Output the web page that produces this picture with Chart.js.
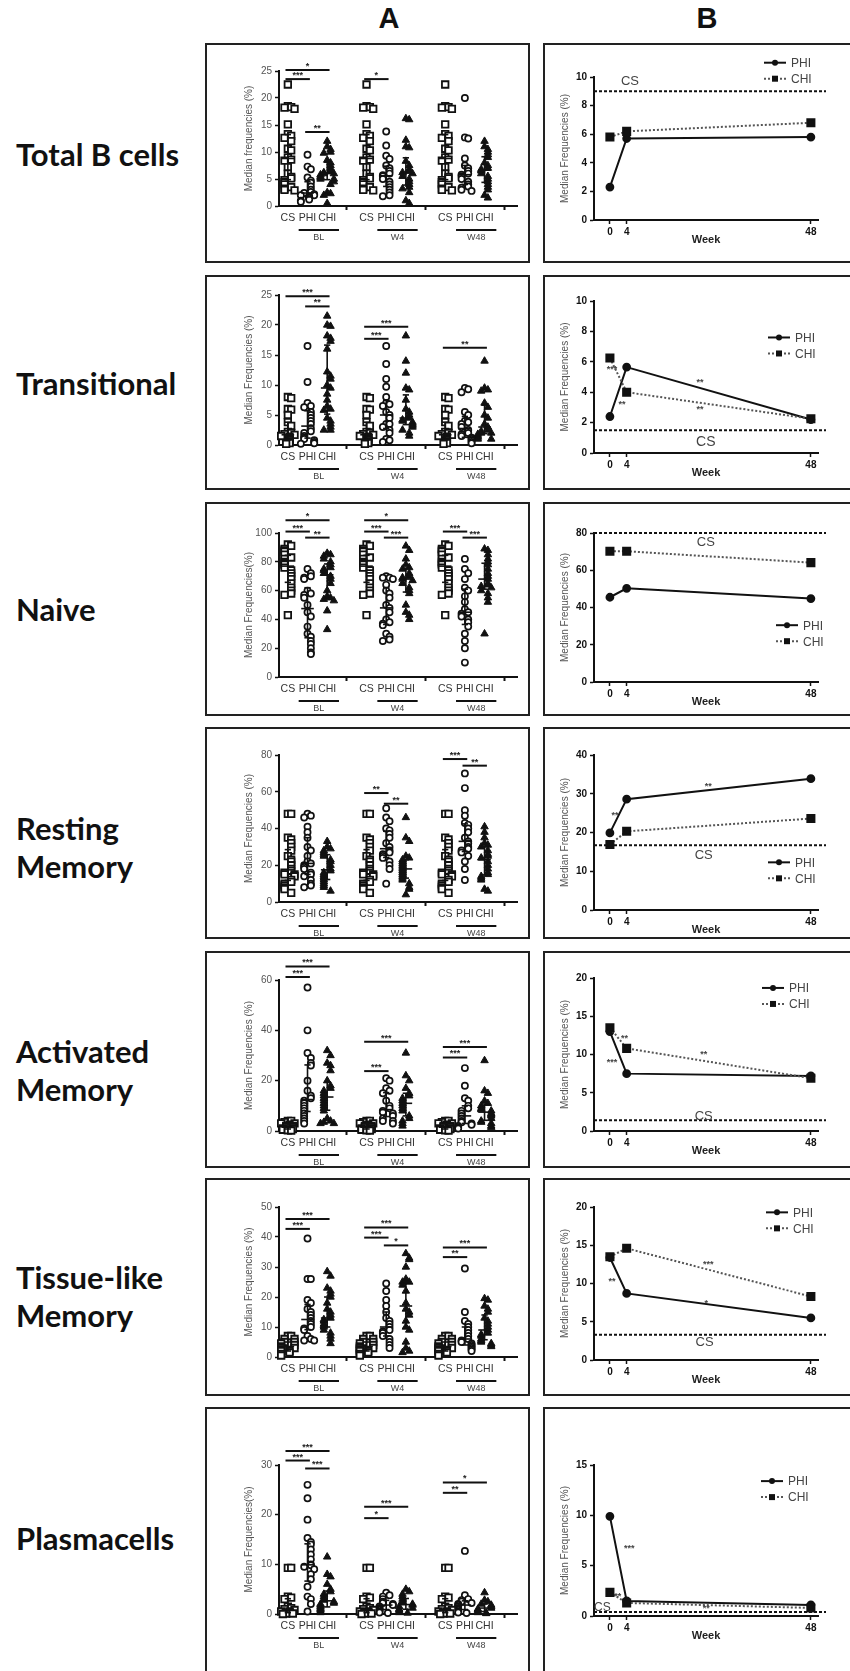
<!DOCTYPE html>
<html lang="en">
<head>
<meta charset="UTF-8">
<title>B cell subsets - median frequencies</title>
<script src="https://cdn.jsdelivr.net/npm/chart.js@4.4.1/dist/chart.umd.min.js"></script>
<style>
  body { margin: 0; width: 850px; height: 1671px; position: relative; overflow: hidden; background: #fff; }
  .head { position: absolute; top: 2px; transform: translateX(-50%); font: bold 29px "Liberation Sans", Arial, sans-serif; color: #111; }
  .rowlab { position: absolute; left: 16px; transform: translateY(-50%); font: bold 31px Lato, "Open Sans", sans-serif; line-height: 38px; color: #111; white-space: pre; }
  .box { position: absolute; border: 2px solid #222; box-sizing: border-box; }
  canvas { position: absolute; }
</style>
</head>
<body>
<div class="head" style="left:389px">A</div>
<div class="head" style="left:707px">B</div>
<script>
// ---- data ----
const rowNames = ['Total B cells', 'Transitional', 'Naive', 'Resting\nMemory', 'Activated\nMemory', 'Tissue-like\nMemory', 'Plasmacells'];
const timeGroups = ['BL', 'W4', 'W48'];
const cohorts = ['CS', 'PHI', 'CHI'];
const weeks = [0, 4, 48];

// column A: individual values (%); CS controls are the same at every time point
const totalCS = [22.5, 18.5, 18.3, 18.2, 18.0, 15.1, 13.3, 13.0, 12.6, 12.0, 10.6, 10.3, 9.0, 8.6, 8.4, 7.2, 6.0, 5.4, 5.1, 4.8, 4.4, 4.0, 3.5, 3.2, 3.0, 2.9];
const totalPHI = [
  [9.5, 7.3, 6.8, 5.3, 4.7, 4.3, 3.6, 3.0, 2.6, 2.4, 2.2, 2.0, 2.0, 1.8, 1.6, 1.5, 1.2, 1.0, 0.8],
  [13.8, 11.2, 9.3, 8.7, 7.5, 7.0, 6.5, 6.0, 5.7, 5.5, 5.0, 4.5, 4.0, 3.5, 3.0, 2.5, 2.0, 1.8],
  [20.0, 12.7, 12.5, 8.8, 7.5, 7.0, 6.5, 6.0, 5.8, 5.5, 5.0, 4.5, 4.0, 3.6, 3.4, 3.0, 2.8]
];
const totalCHI = [
  [12.0, 11.0, 10.5, 10.0, 9.8, 8.5, 8.0, 7.5, 7.0, 6.5, 6.2, 6.0, 6.0, 5.8, 5.5, 5.3, 5.0, 5.0, 4.5, 4.0, 2.5, 2.3, 2.0, 0.5],
  [16.2, 16.0, 12.2, 11.0, 10.8, 8.3, 7.5, 6.8, 6.5, 6.2, 6.0, 5.5, 5.0, 4.5, 4.0, 3.5, 3.2, 2.5, 1.0, 0.5],
  [12.0, 11.0, 10.5, 10.0, 9.5, 9.0, 8.0, 7.5, 7.0, 6.8, 6.5, 6.0, 5.5, 5.0, 4.5, 4.0, 3.5, 3.0, 2.0, 1.5]
];
const transCS = [8.0, 7.8, 6.0, 5.9, 5.0, 3.8, 3.2, 2.2, 2.0, 1.8, 1.7, 1.5, 1.4, 1.2, 1.0, 0.9, 0.8, 0.6, 0.5, 0.3, 0.2];
const transPHI = [
  [16.5, 10.5, 7.0, 6.5, 6.3, 5.5, 5.0, 4.5, 4.0, 3.5, 2.8, 2.3, 2.0, 1.5, 1.2, 1.0, 0.8, 0.5, 0.3, 0.2],
  [16.5, 13.5, 11.0, 9.7, 8.0, 7.0, 6.8, 6.5, 5.5, 5.0, 4.5, 3.5, 3.5, 3.0, 2.5, 2.0, 1.0, 0.8, 0.5],
  [9.5, 9.3, 8.8, 5.5, 5.0, 4.0, 3.8, 3.5, 3.0, 2.5, 2.0, 1.8, 1.5, 1.2, 1.0, 0.8, 0.5, 0.3]
];
const transCHI = [
  [21.5, 20.0, 19.8, 18.2, 17.8, 17.3, 16.0, 12.2, 11.5, 11.0, 10.0, 9.5, 8.5, 7.5, 6.5, 6.0, 5.8, 4.5, 4.0, 3.5, 3.0, 2.5, 2.5],
  [18.2, 14.0, 12.0, 9.5, 9.2, 7.5, 6.0, 5.5, 5.0, 4.5, 4.2, 4.0, 3.8, 3.5, 3.3, 3.0, 2.5, 2.0, 1.5],
  [14.0, 9.5, 9.2, 9.0, 7.0, 6.3, 5.0, 4.5, 3.5, 3.0, 2.5, 2.3, 2.0, 2.0, 1.8, 1.5, 1.3, 1.0, 1.0]
];
const naiveCS = [92, 91, 89, 88, 87, 85, 83, 82, 80, 79, 78, 76, 74, 72, 70, 68, 65, 62, 60, 58, 57, 43];
const naivePHI = [
  [75, 72, 70, 69, 68, 60, 58, 57, 55, 50, 45, 42, 35, 30, 28, 25, 23, 20, 17, 16],
  [70, 69, 69, 68, 64, 60, 58, 55, 50, 48, 45, 40, 38, 37, 36, 30, 28, 26, 25],
  [82, 75, 72, 68, 62, 60, 56, 52, 47, 45, 44, 42, 40, 38, 35, 30, 25, 20, 10]
];
const naiveCHI = [
  [86, 85, 84, 82, 80, 78, 76, 75, 74, 72, 70, 68, 65, 60, 56, 55, 54, 53, 46, 33],
  [91, 88, 82, 78, 76, 75, 72, 70, 69, 68, 67, 65, 62, 60, 58, 50, 45, 43, 40],
  [89, 88, 85, 82, 80, 78, 75, 72, 70, 68, 65, 64, 63, 62, 60, 58, 55, 52, 30]
];
const restCS = [48, 48, 35, 34, 32, 30, 28, 25, 23, 22, 20, 18, 17, 16, 15, 15, 14, 12, 11, 10, 9, 8, 7, 5];
const restPHI = [
  [48, 47, 46, 41, 38, 35, 30, 28, 25, 22, 21, 20, 19, 18, 16, 15, 14, 12, 10, 9, 8],
  [51, 46, 44, 40, 39, 37, 35, 32, 30, 28, 27, 26, 25, 24, 22, 20, 18, 10],
  [70, 62, 50, 47, 43, 42, 40, 38, 35, 33, 32, 30, 29, 28, 27, 25, 22, 18, 12]
];
const restCHI = [
  [33, 30, 29, 28, 27, 26, 25, 23, 22, 20, 18, 17, 16, 15, 14, 13, 12, 11, 10, 9, 8, 6],
  [46, 35, 33, 25, 24, 23, 22, 21, 20, 19, 18, 17, 16, 15, 14, 13, 12, 10, 8, 7, 4],
  [41, 38, 35, 32, 31, 30, 28, 26, 25, 24, 22, 20, 18, 16, 15, 14, 13, 12, 7, 6]
];
const actCS = [4, 4, 3.5, 3, 3, 2.5, 2, 2, 1.5, 1.5, 1, 1, 0.8, 0.5, 0.5, 0.3, 0.2];
const actPHI = [
  [57, 40, 31, 29, 27, 26, 20, 16, 14, 13, 12, 11, 10, 9, 8, 7, 6, 5, 4, 3],
  [21, 20, 17, 16, 15, 12, 10, 9, 8, 7.5, 7, 6, 5, 4, 4, 3],
  [25, 18, 13, 12, 10, 9, 8, 7, 6, 5, 4, 3.5, 3, 2.5, 2, 1.5, 1]
];
const actCHI = [
  [32, 30, 27, 26, 24, 20, 18, 17, 16, 15, 14, 13, 12, 11, 10, 9, 8, 5, 4, 3.5, 3, 3],
  [31, 22, 20, 17, 15, 14, 13, 12, 11, 10, 9, 8, 6, 5, 4, 3, 2],
  [28, 16, 15, 12, 11, 10, 9, 8.5, 8, 7, 6.5, 6, 5, 4, 3.5, 3, 2, 1.5]
];
const tissueCS = [7, 7, 6, 6, 5, 5, 4.5, 4, 3.5, 3, 3, 2.5, 2, 2, 1.5, 1, 0.5];
const tissuePHI = [
  [39.5, 26, 26, 19, 18, 16, 15, 14, 13, 12, 11, 10, 9.5, 9, 7, 6, 5.5, 5.5],
  [24.5, 22, 19, 17, 15, 13, 12, 11, 10, 9, 8.5, 8, 7, 6, 5, 4, 3],
  [29.5, 15, 12, 11, 10, 9, 8, 7, 6, 5.5, 5, 4.5, 4, 3.5, 3, 2.5, 2]
];
const tissueCHI = [
  [28.5, 27, 23, 22, 21, 20, 18, 16, 15, 14, 13, 12.5, 12, 11, 10.5, 10, 9, 8, 7, 6, 4.5],
  [34.5, 33, 32.5, 30, 26, 25, 25, 24, 22, 18, 16, 15, 14, 12, 10, 9, 5, 3, 2, 1.5],
  [19.5, 19, 17, 16, 15, 13, 12, 11, 10, 9, 8, 7.5, 7, 6, 5.5, 5, 4.5, 4, 3.5]
];
const plasmaCS = [9.3, 9.3, 3.5, 3.3, 3.0, 1.5, 1.2, 1.0, 0.8, 0.5, 0.5, 0.3, 0.2, 0.1, 0.1, 0.0];
const plasmaPHI = [
  [26.0, 23.3, 19.0, 15.3, 14.5, 14.0, 13.0, 12.0, 11.0, 10.0, 9.8, 9.5, 9.0, 8.0, 7.0, 5.5, 3.5, 3.0, 2.0, 0.5],
  [4.3, 3.8, 3.5, 3.0, 2.5, 2.2, 2.0, 1.8, 1.5, 1.2, 1.0, 0.8, 0.5, 0.3, 0.2],
  [12.7, 3.8, 3.0, 2.8, 2.5, 2.2, 2.0, 1.8, 1.5, 1.2, 1.0, 0.8, 0.5, 0.3, 0.2]
];
const plasmaCHI = [
  [11.5, 8.0, 7.5, 6.0, 5.0, 4.5, 4.0, 3.5, 3.0, 2.8, 2.5, 2.2, 2.0, 1.8, 1.5, 1.2, 1.0, 0.8, 0.5, 0.3],
  [5.0, 4.5, 4.0, 3.5, 3.0, 2.5, 2.3, 2.0, 1.8, 1.5, 1.2, 1.0, 0.8, 0.5, 0.3, 0.2],
  [4.3, 2.8, 2.5, 2.0, 1.8, 1.5, 1.2, 1.0, 0.8, 0.5, 0.3, 0.2, 0.1]
];

// significance bars in A: [time point, from cohort, to cohort, level, stars]
const sigA = [
  [[0, 0, 2, 25.2, '*'], [0, 0, 1, 23.5, '***'], [0, 1, 2, 13.7, '**'], [1, 0, 1, 23.5, '*']],
  [[0, 0, 2, 24.8, '***'], [0, 1, 2, 23.1, '**'], [1, 0, 2, 19.7, '***'], [1, 0, 1, 17.7, '***'], [2, 0, 2, 16.2, '**']],
  [[0, 0, 2, 108.8, '*'], [0, 0, 1, 101, '***'], [0, 1, 2, 96.8, '**'], [1, 0, 2, 108.8, '*'], [1, 0, 1, 101, '***'], [1, 1, 2, 96.8, '***'], [2, 0, 1, 101, '***'], [2, 1, 2, 96.8, '***']],
  [[1, 0, 1, 59.3, '**'], [1, 1, 2, 53.5, '**'], [2, 0, 1, 77.8, '***'], [2, 1, 2, 74.2, '**']],
  [[0, 0, 2, 65.4, '***'], [0, 0, 1, 61.2, '***'], [1, 0, 2, 35.5, '***'], [1, 0, 1, 23.8, '***'], [2, 0, 2, 33.4, '***'], [2, 0, 1, 29.2, '***']],
  [[0, 0, 2, 46, '***'], [0, 0, 1, 42.7, '***'], [1, 0, 2, 43.2, '***'], [1, 0, 1, 39.8, '***'], [1, 1, 2, 37.2, '*'], [2, 0, 2, 36.5, '***'], [2, 0, 1, 33.3, '**']],
  [[0, 0, 2, 32.8, '***'], [0, 0, 1, 30.9, '***'], [0, 1, 2, 29.3, '***'], [1, 0, 2, 21.6, '***'], [1, 0, 1, 19.3, '*'], [2, 0, 2, 26.5, '*'], [2, 0, 1, 24.4, '**']]
];

// column B: medians by week
const csMedianB = [9.0, 1.5, 80, 16.7, 1.4, 3.3, 0.4];
const phiMedianB = [[2.3, 5.7, 5.8], [2.4, 5.65, 2.2], [45.5, 50.3, 44.8], [19.9, 28.6, 33.9], [13.0, 7.5, 7.2], [13.4, 8.7, 5.5], [9.9, 1.5, 1.1]];
const chiMedianB = [[5.8, 6.2, 6.8], [6.25, 4.0, 2.25], [70.2, 70.2, 64.1], [16.9, 20.3, 23.6], [13.5, 10.8, 6.9], [13.5, 14.6, 8.3], [2.35, 1.3, 0.8]];
// stars in B: [week, level, stars]
const sigB = [
  [],
  [[21.5, 4.8, '**'], [21.5, 3.0, '**'], [0.5, 5.6, '***'], [2.9, 3.3, '**']],
  [],
  [[23.5, 32.3, '**'], [1.2, 24.9, '**']],
  [[3.5, 12.4, '**'], [0.5, 9.2, '***'], [22.4, 10.2, '**']],
  [[23.5, 12.8, '***'], [0.5, 10.5, '**'], [23, 7.7, '*']],
  [[4.6, 6.9, '***'], [1.9, 2.1, '**'], [23, 0.9, '**']]
];
// "CS" label in B: [week, level, font size]
const csLabelB = [[4.8, 9.66, 13], [22.9, 0.7, 14], [22.9, 75, 13], [22.4, 14.2, 13], [22.4, 1.95, 13], [22.6, 2.3, 13], [-1.8, 0.85, 12]];

const yMaxA = [25, 25, 100, 80, 60, 50, 30];
const yStepA = [5, 5, 20, 20, 20, 10, 10];
const yMaxB = [10, 10, 80, 40, 20, 20, 15];
const yStepB = [2, 2, 20, 10, 5, 5, 5];
const yTitleA = ['Median frequencies (%)', 'Median Frequencies (%)', 'Median Frequencies(%)', 'Median Frequencies (%)', 'Median Frequencies (%)', 'Median Frequencies (%)', 'Median Frequencies(%)'];

const rowsA = [
  [totalCS, totalPHI, totalCHI], [transCS, transPHI, transCHI], [naiveCS, naivePHI, naiveCHI],
  [restCS, restPHI, restCHI], [actCS, actPHI, actCHI], [tissueCS, tissuePHI, tissueCHI], [plasmaCS, plasmaPHI, plasmaCHI]
];

// ---- layout (page pixels) ----
const rowTop = [43, 275, 502, 727, 951, 1178, 1407];
const rowH = [220, 215, 214, 212, 217, 218, 280];
const labelY = [154, 383, 609, 847, 1070, 1296, 1538];
const aTopAbs = [71, 295, 533, 755, 980, 1207, 1465];
const aZeroAbs = [206, 445, 677, 902, 1131, 1357, 1614];
const bTopAbs = [77, 301, 533, 755, 978, 1207, 1465];
const bZeroAbs = [220, 453, 682, 910, 1131, 1360, 1616];
// legend: [px left of plot right edge, level of the PHI entry]
const legendB = [[54, 11.0], [50, 7.6], [42, 30.5], [50, 12.3], [56, 18.7], [52, 19.3], [57, 13.4]];
const A_LEFT = 205, A_W = 325, B_LEFT = 543, B_W = 320, B_CANVAS_W = 307;

const FONT = '"Liberation Sans", Arial, sans-serif';
Chart.defaults.font.family = FONT;

function groupValues(r, t, ci) {
  const set = rowsA[r][ci];
  return ci === 0 ? set : set[t];
}

function quartiles(vals) {
  const s = [...vals].sort((a, b) => a - b);
  const q = p => {
    const i = (s.length - 1) * p, lo = Math.floor(i), hi = Math.ceil(i);
    return s[lo] + (s[hi] - s[lo]) * (i - lo);
  };
  return [q(0.25), q(0.5), q(0.75)];
}

// horizontal spread of overlapping points (like a column scatter)
function spread(vals, range) {
  const slots = [0, 0.17, -0.17, 0.34, -0.34, 0.085, -0.085, 0.255, -0.255];
  const placed = [];
  return vals.map(v => {
    const near = placed.filter(p => Math.abs(p - v) < range * 0.035).length;
    placed.push(v);
    return slots[near % slots.length];
  });
}

function seg(ctx, x1, y1, x2, y2) {
  ctx.beginPath(); ctx.moveTo(x1, y1); ctx.lineTo(x2, y2); ctx.stroke();
}

const groupPlugin = {
  id: 'groups',
  afterDatasetsDraw(chart, args, opts) {
    const r = opts.row;
    const { ctx } = chart;
    const x = chart.scales.x, y = chart.scales.y;
    ctx.save();
    ctx.strokeStyle = '#111';
    ctx.lineWidth = 1.6;
    // median with interquartile range
    for (let t = 0; t < 3; t++) {
      for (let ci = 0; ci < 3; ci++) {
        const pos = t * 4 + ci + 1;
        const q = quartiles(groupValues(r, t, ci));
        const px = x.getPixelForValue(pos);
        seg(ctx, x.getPixelForValue(pos - 0.32), y.getPixelForValue(q[1]), x.getPixelForValue(pos + 0.32), y.getPixelForValue(q[1]));
        seg(ctx, px, y.getPixelForValue(q[0]), px, y.getPixelForValue(q[2]));
        [q[0], q[2]].forEach(v => seg(ctx, x.getPixelForValue(pos - 0.16), y.getPixelForValue(v), x.getPixelForValue(pos + 0.16), y.getPixelForValue(v)));
      }
    }
    // significance bars
    ctx.lineWidth = 2;
    ctx.fillStyle = '#222';
    ctx.font = 'bold 9px ' + FONT;
    ctx.textAlign = 'center';
    ctx.textBaseline = 'bottom';
    sigA[r].forEach(([t, a, b, lvl, stars]) => {
      const x1 = x.getPixelForValue(t * 4 + a + 1 - 0.12), x2 = x.getPixelForValue(t * 4 + b + 1 + 0.12);
      const yy = y.getPixelForValue(lvl);
      seg(ctx, x1, yy, x2, yy);
      ctx.fillText(stars, (x1 + x2) / 2, yy + 1);
    });
    // time point underlines and labels
    const y0 = y.getPixelForValue(0);
    ctx.font = '9px ' + FONT;
    ctx.fillStyle = '#444';
    ctx.textBaseline = 'middle';
    timeGroups.forEach((g, t) => {
      const x1 = x.getPixelForValue(t * 4 + 1.55), x2 = x.getPixelForValue(t * 4 + 3.6);
      seg(ctx, x1, y0 + 24, x2, y0 + 24);
      ctx.fillText(g, (x1 + x2) / 2, y0 + 32);
    });
    ctx.restore();
  }
};

const weekPlugin = {
  id: 'weeks',
  beforeDatasetsDraw(chart, args, opts) {
    const r = opts.row;
    const { ctx, chartArea } = chart;
    const yy = chart.scales.y.getPixelForValue(csMedianB[r]);
    ctx.save();
    ctx.strokeStyle = '#111';
    ctx.lineWidth = 2;
    ctx.setLineDash([3, 2]);
    seg(ctx, chartArea.left, yy, chartArea.right + 8, yy);
    ctx.restore();
  },
  afterDatasetsDraw(chart, args, opts) {
    const r = opts.row;
    const { ctx, chartArea } = chart;
    const x = chart.scales.x, y = chart.scales.y;
    ctx.save();
    ctx.textAlign = 'center';
    ctx.textBaseline = 'middle';
    // CS label
    const [cw, cv, cs] = csLabelB[r];
    ctx.fillStyle = '#444';
    ctx.font = cs + 'px ' + FONT;
    ctx.fillText('CS', x.getPixelForValue(cw), y.getPixelForValue(cv));
    // stars
    ctx.font = 'bold 9px ' + FONT;
    sigB[r].forEach(([w, v, s]) => ctx.fillText(s, x.getPixelForValue(w), y.getPixelForValue(v) + 2));
    // legend
    const lx = chartArea.right - legendB[r][0], ly = y.getPixelForValue(legendB[r][1]);
    ctx.textAlign = 'left';
    ctx.font = '12px ' + FONT;
    ctx.strokeStyle = '#111';
    ctx.lineWidth = 2;
    seg(ctx, lx, ly, lx + 22, ly);
    ctx.fillStyle = '#111';
    ctx.beginPath(); ctx.arc(lx + 11, ly, 3, 0, Math.PI * 2); ctx.fill();
    ctx.setLineDash([2, 2]);
    ctx.strokeStyle = '#555';
    seg(ctx, lx, ly + 16, lx + 22, ly + 16);
    ctx.setLineDash([]);
    ctx.fillRect(lx + 8, ly + 13, 6, 6);
    ctx.fillStyle = '#444';
    ctx.fillText('PHI', lx + 27, ly + 1);
    ctx.fillText('CHI', lx + 27, ly + 17);
    ctx.restore();
  }
};

function addBox(left, top, w, h) {
  const d = document.createElement('div');
  d.className = 'box';
  Object.assign(d.style, { left: left + 'px', top: top + 'px', width: w + 'px', height: h + 'px' });
  document.body.appendChild(d);
}

function addCanvas(left, top, w, h) {
  const c = document.createElement('canvas');
  c.width = w; c.height = h;
  Object.assign(c.style, { left: left + 'px', top: top + 'px', width: w + 'px', height: h + 'px' });
  document.body.appendChild(c);
  return c;
}

const axisY = (max, step, title, bold) => ({
  min: 0, max: max,
  ticks: { stepSize: step, color: bold ? '#111' : '#555', font: { size: 10, weight: bold ? 'bold' : 'normal' }, padding: 3 },
  grid: { drawOnChartArea: false, tickLength: 4, tickColor: '#111', tickWidth: 1.5 },
  border: { color: '#111', width: 2 },
  title: { display: true, text: title, color: '#555', font: { size: 10 }, padding: { top: 4, bottom: 0 } }
});

function makeA(r) {
  const H = rowH[r], top = rowTop[r];
  addBox(A_LEFT, top, A_W, H);
  const canvas = addCanvas(A_LEFT, top, A_W, H);
  const styles = [
    { pointStyle: 'rect', pointRadius: 4.6, pointBackgroundColor: '#fff', pointBorderWidth: 1.8 },
    { pointStyle: 'circle', pointRadius: 3.1, pointBackgroundColor: '#fff', pointBorderWidth: 1.7 },
    { pointStyle: 'triangle', pointRadius: 4.3, pointBackgroundColor: '#111', pointBorderWidth: 1 }
  ];
  const datasets = cohorts.map((c, ci) => {
    const data = [];
    for (let t = 0; t < 3; t++) {
      const vals = groupValues(r, t, ci);
      const off = spread(vals, yMaxA[r]);
      vals.forEach((v, i) => data.push({ x: t * 4 + ci + 1 + off[i], y: v }));
    }
    return Object.assign({ label: c, data, pointBorderColor: '#111', showLine: false, clip: false }, styles[ci]);
  });
  const catLabels = ['', 'CS', 'PHI', 'CHI'];
  new Chart(canvas, {
    type: 'scatter',
    data: { datasets },
    options: {
      responsive: false, animation: false,
      layout: { padding: { left: 34, right: 13, top: aTopAbs[r] - top, bottom: H - (aZeroAbs[r] - top) - 22 } },
      plugins: { legend: { display: false }, tooltip: { enabled: false }, groups: { row: r } },
      scales: {
        x: {
          type: 'linear', min: 0.55, max: 12.65,
          afterBuildTicks: ax => { ax.ticks = [1, 2, 3, 4, 5, 6, 7, 8, 9, 10, 11, 12].map(v => ({ value: v })); },
          afterFit: ax => { ax.height = 22; },
          ticks: { autoSkip: false, maxRotation: 0, minRotation: 0, padding: 2, color: '#333', font: { size: 10.5 }, callback: v => catLabels[v % 4] },
          grid: { drawOnChartArea: false, tickLength: 4, tickWidth: 2, tickColor: ctx => (ctx.tick && ctx.tick.value % 4 === 0) ? '#111' : 'rgba(0,0,0,0)' },
          border: { color: '#111', width: 2 }
        },
        y: Object.assign(axisY(yMaxA[r], yStepA[r], yTitleA[r], false), { afterFit: ax => { ax.width = 40; } })
      }
    },
    plugins: [groupPlugin]
  });
}

function makeB(r) {
  const H = rowH[r], top = rowTop[r];
  addBox(B_LEFT, top, B_W, H);
  const canvas = addCanvas(B_LEFT, top, B_CANVAS_W, H);
  new Chart(canvas, {
    type: 'scatter',
    data: {
      datasets: [
        { label: 'CHI', data: weeks.map((w, i) => ({ x: w, y: chiMedianB[r][i] })), showLine: true, borderColor: '#555', borderWidth: 2, borderDash: [2, 2],
          pointStyle: 'rect', pointRadius: 5, pointBackgroundColor: '#111', pointBorderColor: '#111', clip: false },
        { label: 'PHI', data: weeks.map((w, i) => ({ x: w, y: phiMedianB[r][i] })), showLine: true, borderColor: '#111', borderWidth: 2,
          pointStyle: 'circle', pointRadius: 3.4, pointBackgroundColor: '#111', pointBorderColor: '#111', clip: false }
      ]
    },
    options: {
      responsive: false, animation: false,
      layout: { padding: { left: 12, right: B_CANVAS_W - 275, top: bTopAbs[r] - top, bottom: H - (bZeroAbs[r] - top) - 27 } },
      plugins: { legend: { display: false }, tooltip: { enabled: false }, weeks: { row: r } },
      scales: {
        x: {
          type: 'linear', min: -3.8, max: 49.7,
          afterBuildTicks: ax => { ax.ticks = weeks.map(v => ({ value: v })); },
          afterFit: ax => { ax.height = 27; },
          ticks: { autoSkip: false, maxRotation: 0, padding: 2, color: '#111', font: { size: 10, weight: 'bold' } },
          grid: { drawOnChartArea: false, tickLength: 4, tickWidth: 1.5, tickColor: '#111' },
          border: { color: '#111', width: 2 },
          title: { display: true, text: 'Week', color: '#222', font: { size: 11, weight: 'bold' }, padding: { top: 0, bottom: 0 } }
        },
        y: Object.assign(axisY(yMaxB[r], yStepB[r], 'Median Frequencies (%)', true), { afterFit: ax => { ax.width = 39; } })
      }
    },
    plugins: [weekPlugin]
  });
}

rowNames.forEach((name, r) => {
  const lab = document.createElement('div');
  lab.className = 'rowlab';
  lab.textContent = name;
  lab.style.top = labelY[r] + 'px';
  document.body.appendChild(lab);
  makeA(r);
  makeB(r);
});
</script>
</body>
</html>
